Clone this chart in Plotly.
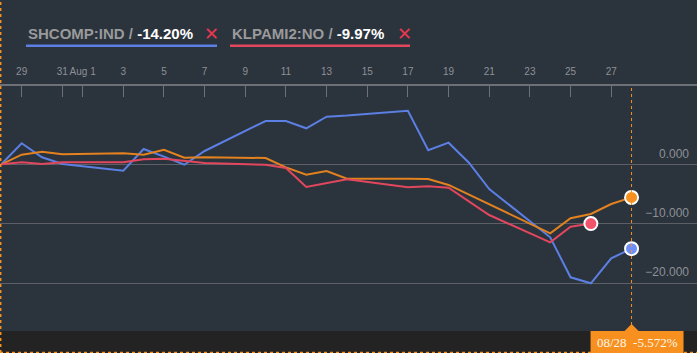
import plotly.graph_objects as go

dates = ["2015-07-28", "2015-07-29", "2015-07-30", "2015-07-31", "2015-08-03",
         "2015-08-04", "2015-08-05", "2015-08-06", "2015-08-07", "2015-08-10",
         "2015-08-11", "2015-08-12", "2015-08-13", "2015-08-14", "2015-08-17",
         "2015-08-18", "2015-08-19", "2015-08-20", "2015-08-21", "2015-08-24",
         "2015-08-25", "2015-08-26", "2015-08-27", "2015-08-28"]

shcomp = [0.0, 3.54, 1.18, 0.05, -1.08, 2.58, 1.3, -0.07, 2.24, 7.29,
          7.29, 6.06, 8.01, 8.2, 9.02, 2.36, 3.64, 0.27, -4.16, -12.29,
          -19.02, -20.03, -15.82, -14.20]

compare = [0.0, 1.62, 2.12, 1.68, 1.85, 1.6, 2.45, 1.1, 1.18, 1.06,
           -0.51, -1.75, -1.13, -2.42, -2.42, -2.47, -3.48, -5.1, -6.77, -11.62,
           -9.09, -8.37, -6.68, -5.572]

klpami = [0.0, 0.34, 0.05, 0.34, 0.34, 0.84, 0.94, 0.56, 0.22, -0.07,
          -0.62, -3.82, -3.23, -2.53, -3.87, -3.7, -3.94, -6.2, -8.54, -13.13,
          -10.5, -9.97]

tick_vals = ["2015-07-29", "2015-07-31", "2015-08-01", "2015-08-03", "2015-08-05",
             "2015-08-07", "2015-08-09", "2015-08-11", "2015-08-13", "2015-08-15",
             "2015-08-17", "2015-08-19", "2015-08-21", "2015-08-23", "2015-08-25",
             "2015-08-27"]
tick_text = ["29", "31", "Aug 1", "3", "5", "7", "9", "11", "13", "15", "17",
             "19", "21", "23", "25", "27"]
y_ticks = [0, -10, -20]

names = ["SHCOMP:IND", "KLPAMI2:NO"]

BG = "#2b333d"
BAND = "#232323"
BLUE, BLUE_M = "#5b7fe2", "#6e8ff9"
RED, RED_M = "#e2475e", "#f2536c"
ORANGE, ORANGE_M = "#e3821f", "#f7901e"
FONT = "Liberation Sans, Arial, sans-serif"

fig = go.Figure()
series = [(dates, shcomp, BLUE, BLUE_M),
          (dates, compare, ORANGE, ORANGE_M),
          (dates[:len(klpami)], klpami, RED, RED_M)]
for xs, ys, lc, mc in series:
    fig.add_trace(go.Scatter(x=xs, y=ys, mode="lines",
                             line=dict(color=lc, width=2), hoverinfo="skip"))
for xs, ys, lc, mc in series:
    fig.add_trace(go.Scatter(x=[xs[-1]], y=[ys[-1]], mode="markers",
                             marker=dict(color=mc, size=13,
                                         line=dict(color="white", width=2)),
                             hoverinfo="skip"))

H_PLOT = 353 - 86 - 22
band_y0 = -22 / H_PLOT

shapes = [
    dict(type="rect", xref="paper", yref="paper", x0=0, x1=1, y0=band_y0, y1=0,
         fillcolor=BAND, line=dict(width=0), layer="below"),
    dict(type="line", xref="x", yref="paper", x0=dates[-1], x1=dates[-1], y0=0, y1=1,
         line=dict(color=ORANGE_M, width=1, dash="dot")),
    # tooltip box
    dict(type="rect", xref="x", yref="paper", xsizemode="pixel", xanchor=dates[-1],
         x0=-41, x1=52, y0=band_y0, y1=0, fillcolor=ORANGE_M, line=dict(width=0)),
    dict(type="path", xref="x", yref="paper", xsizemode="pixel", xanchor=dates[-1],
         ysizemode="pixel", yanchor=0, path="M -7 0 L 0 7 L 7 0 Z",
         fillcolor=ORANGE_M, line=dict(width=0)),
    # dotted frame edges
    dict(type="line", xref="paper", yref="paper", x0=0.001, x1=0.001, y0=band_y0, y1=1 + 86 / H_PLOT,
         line=dict(color=ORANGE_M, width=1.5, dash="dot")),
    dict(type="line", xref="paper", yref="paper", x0=0, x1=1, y0=band_y0 + 0.002, y1=band_y0 + 0.002,
         line=dict(color=ORANGE_M, width=1.5, dash="dot")),
]

# legend underlines
leg_y = (331 - 45.7) / H_PLOT
shapes.append(dict(type="line", xref="paper", yref="paper", x0=26 / 697, x1=217 / 697,
                   y0=leg_y, y1=leg_y, line=dict(color=BLUE, width=2.5)))
shapes.append(dict(type="line", xref="paper", yref="paper", x0=230 / 697, x1=410 / 697,
                   y0=leg_y, y1=leg_y, line=dict(color=RED, width=2.5)))

text_y = (331 - 34) / H_PLOT
annotations = [
    dict(xref="paper", yref="paper", x=26 / 697, y=text_y, xanchor="left", yanchor="middle",
         showarrow=False,
         text=f"<b><span style='color:#9a9a9a'>{names[0]} / </span>{shcomp[-1]:.2f}%</b>",
         font=dict(family=FONT, size=15, color="white")),
    dict(xref="paper", yref="paper", x=211 / 697, y=text_y, xanchor="center", yanchor="middle",
         showarrow=False, text="✕", font=dict(family="DejaVu Sans", size=18, color="#e8384f")),
    dict(xref="paper", yref="paper", x=230 / 697, y=text_y, xanchor="left", yanchor="middle",
         showarrow=False,
         text=f"<b><span style='color:#9a9a9a'>{names[1]} / </span>{klpami[-1]:.2f}%</b>",
         font=dict(family=FONT, size=15, color="white")),
    dict(xref="paper", yref="paper", x=404 / 697, y=text_y, xanchor="center", yanchor="middle",
         showarrow=False, text="✕", font=dict(family="DejaVu Sans", size=18, color="#e8384f")),
    dict(xref="x", yref="paper", x=dates[-1], xshift=6, y=band_y0 / 2, xanchor="center",
         yanchor="middle", showarrow=False,
         text=f"{dates[-1][5:7]}/{dates[-1][8:10]}&nbsp;&nbsp;{compare[-1]:.3f}%",
         font=dict(family="Liberation Serif, Times New Roman, serif", size=13, color="#fff6ea")),
]

fig.update_layout(
    width=697, height=353,
    margin=dict(l=0, r=0, t=86, b=22),
    paper_bgcolor=BG, plot_bgcolor=BG,
    showlegend=False,
    shapes=shapes, annotations=annotations,
    xaxis=dict(type="date", side="top",
               range=["2015-07-27 22:24", "2015-08-31 05:17"],
               tickmode="array", tickvals=tick_vals, ticktext=tick_text,
               tickangle=0,
               ticks="inside", ticklen=11, tickcolor="#6d7177", tickwidth=1,
               showline=True, linecolor="#6d7177", linewidth=1.5,
               showgrid=False, zeroline=False, ticklabelstandoff=5,
               tickfont=dict(family=FONT, size=10, color="#8d9197"),
               fixedrange=True),
    yaxis=dict(range=[-28.06, 13.18], side="right", ticklabelposition="inside",
               tickmode="array", tickvals=y_ticks, tickformat=".3f",
               ticks="", showgrid=True, gridcolor="#5c6066", gridwidth=1,
               zeroline=False, showline=False,
               ticklabelshift=-11, ticklabelstandoff=5,
               tickfont=dict(family=FONT, size=12, color="#8d9197"),
               fixedrange=True),
)

fig.write_html("out.html")
